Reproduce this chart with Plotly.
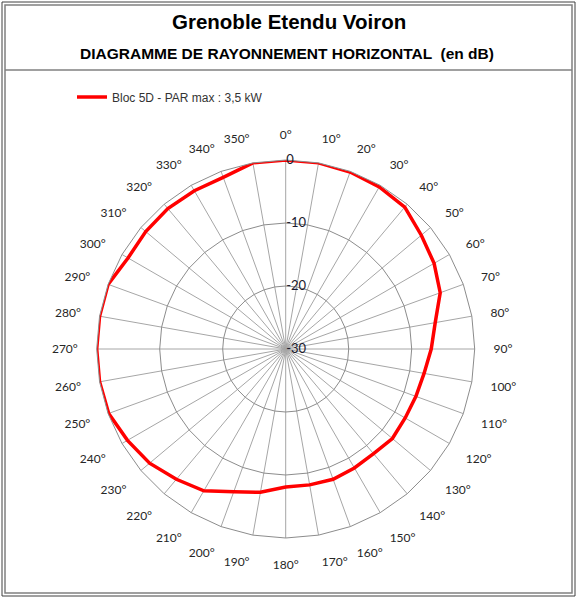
import plotly.graph_objects as go

# horizontal radiation pattern, one value every 10 degrees (dB)
angles = list(range(0, 360, 10))
angle_labels = [f"{a}°" for a in angles]
gain_db = [
    0.0, 0.0, -0.1, -0.3, -0.6, -1.9, -2.8, -3.9, -5.9,
    -6.9, -7.7, -8.0, -8.1, -7.9, -8.3, -8.2, -8.0, -8.1,
    -8.1, -6.9, -5.9, -4.0, -3.0, -1.8, -1.0, -0.1, 0.0,
    0.0, 0.0, 0.0, -1.1, -1.0, -0.9, -1.0, -1.0, 0.0,
]
radial_ticks = [-30, -20, -10, 0]
series_name = "Bloc 5D - PAR max : 3,5 kW"

W, H = 578, 600
cx, cy, R = 285.7, 349, 189

fig = go.Figure()

# close the loop back to 0°
fig.add_trace(
    go.Scatterpolar(
        r=gain_db + gain_db[:1],
        theta=angle_labels + angle_labels[:1],
        mode="lines",
        name=series_name,
        line=dict(color="#ff0000", width=3.5),
        showlegend=True,
        hoverinfo="skip",
    )
)

fig.update_layout(
    width=W,
    height=H,
    margin=dict(l=0, r=0, t=0, b=0),
    paper_bgcolor="white",
    plot_bgcolor="white",
    font=dict(family="Liberation Sans, Arial, sans-serif", color="#222222"),
    polar=dict(
        domain=dict(
            x=[(cx - R) / W, (cx + R) / W],
            y=[(H - cy - R) / H, (H - cy + R) / H],
        ),
        bgcolor="white",
        gridshape="linear",
        angularaxis=dict(
            type="category",
            categoryorder="array",
            categoryarray=angle_labels,
            direction="clockwise",
            rotation=90,
            showline=True,
            linecolor="#8c8c8c",
            linewidth=1,
            showgrid=True,
            gridcolor="#a6a6a6",
            gridwidth=1,
            ticks="outside",
            ticklen=16,
            tickcolor="rgba(0,0,0,0)",
            tickfont=dict(family="Lato, Open Sans, sans-serif", size=12, color="#262626"),
        ),
        radialaxis=dict(
            range=[-30, 0],
            tickvals=radial_ticks,
            ticktext=[str(v) for v in radial_ticks],
            angle=90,
            tickangle=90,
            side="clockwise",
            showline=False,
            showgrid=True,
            gridcolor="#8c8c8c",
            gridwidth=1,
            ticks="",
            tickfont=dict(family="Lato, Open Sans, sans-serif", size=13, color="#1a1a2e"),
        ),
    ),
    showlegend=True,
    legend=dict(
        x=72 / W,
        y=1 - 97 / H,
        xanchor="left",
        yanchor="middle",
        bgcolor="rgba(0,0,0,0)",
        font=dict(family="Liberation Sans, Arial, sans-serif", size=12, color="#333333"),
    ),
    annotations=[
        dict(
            text="<b>Grenoble Etendu Voiron</b>",
            x=289 / W, y=1 - 22 / H, xref="paper", yref="paper",
            xanchor="center", yanchor="middle", showarrow=False,
            font=dict(size=20.5, color="#000000"),
        ),
        dict(
            text="<b>DIAGRAMME DE RAYONNEMENT HORIZONTAL  (en dB)</b>",
            x=287 / W, y=1 - 53 / H, xref="paper", yref="paper",
            xanchor="center", yanchor="middle", showarrow=False,
            font=dict(size=15.5, color="#000000"),
        ),
    ],
    shapes=[
        # double frame around the whole chart
        dict(type="rect", xref="paper", yref="paper",
             x0=2 / W, x1=575 / W, y0=1 - 596 / H, y1=1 - 2 / H,
             line=dict(color="#404040", width=1)),
        dict(type="rect", xref="paper", yref="paper",
             x0=5 / W, x1=572 / W, y0=1 - 593 / H, y1=1 - 5 / H,
             line=dict(color="#808080", width=1.5)),
        # separator under the title block
        dict(type="line", xref="paper", yref="paper",
             x0=5 / W, x1=572 / W, y0=1 - 70 / H, y1=1 - 70 / H,
             line=dict(color="#808080", width=1.5)),
    ],
)

# drop the default page margin so the figure sits at the window origin
fig.write_html(
    "out.html",
    config={"displayModeBar": False},
    post_script="document.body.style.margin = '0';",
)
